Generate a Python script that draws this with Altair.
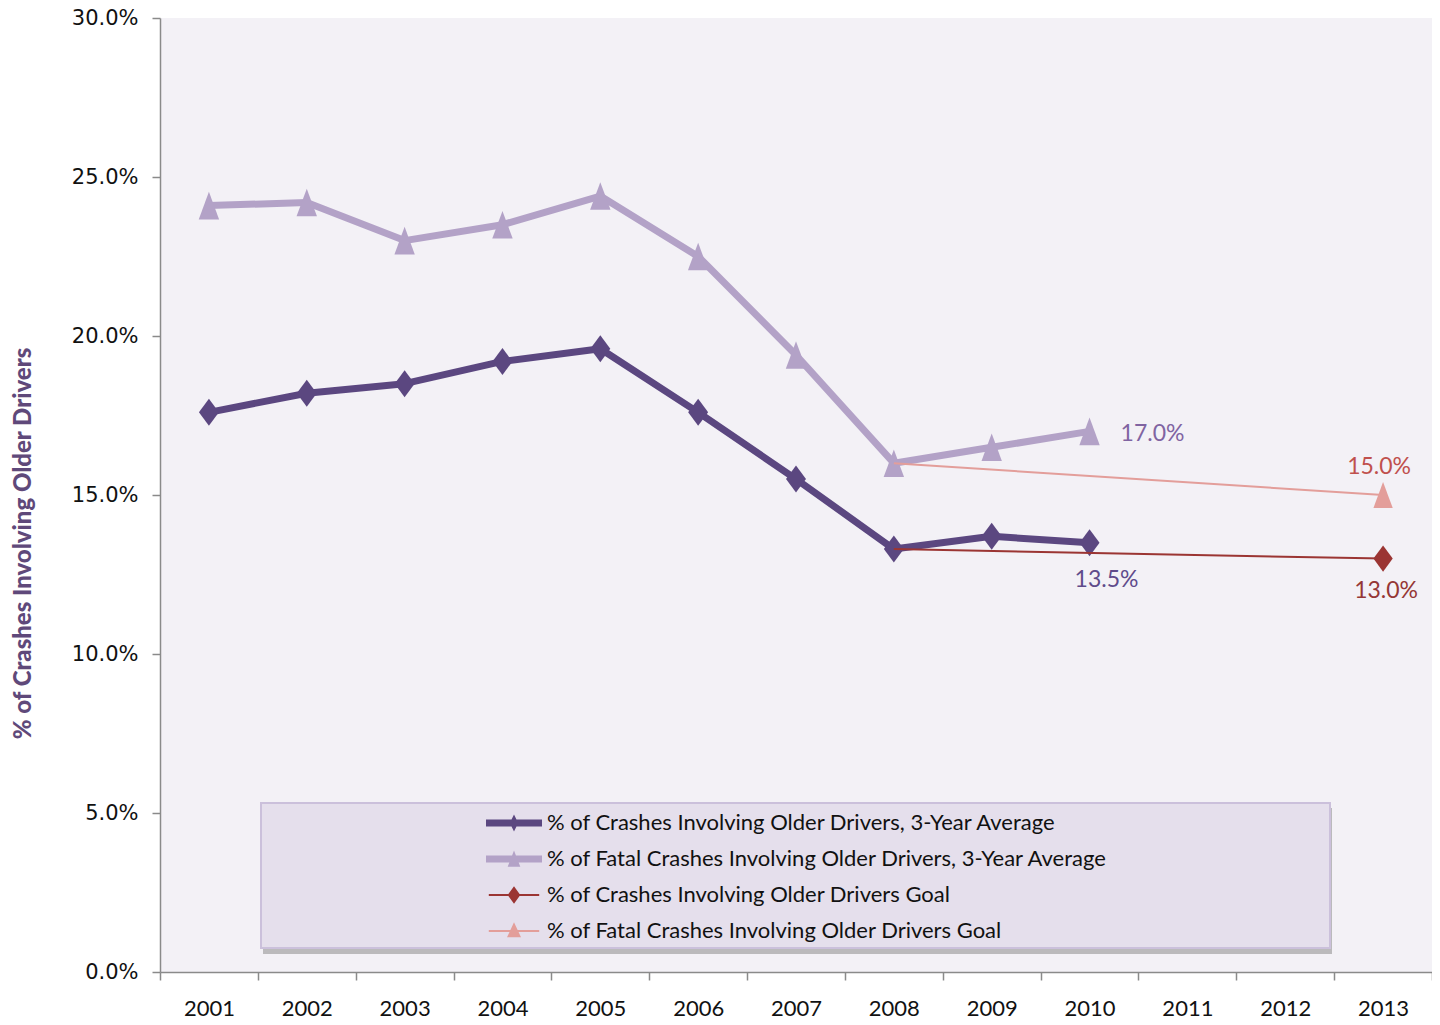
import altair as alt
import pandas as pd

# ---------------- data ----------------
years = ["2001", "2002", "2003", "2004", "2005", "2006", "2007",
         "2008", "2009", "2010", "2011", "2012", "2013"]
avg_years = ["2001", "2002", "2003", "2004", "2005", "2006", "2007",
             "2008", "2009", "2010"]
crash_avg = [17.6, 18.2, 18.5, 19.2, 19.6, 17.6, 15.5, 13.3, 13.7, 13.5]
fatal_avg = [24.1, 24.2, 23.0, 23.5, 24.4, 22.5, 19.4, 16.0, 16.5, 17.0]
goal_years = ["2008", "2013"]
crash_goal = [13.3, 13.0]
fatal_goal = [16.0, 15.0]
series_names = [
    "% of Crashes Involving Older Drivers, 3-Year Average",
    "% of Fatal Crashes Involving Older Drivers, 3-Year Average",
    "% of Crashes Involving Older Drivers Goal",
    "% of Fatal Crashes Involving Older Drivers Goal",
]
y_ticks = [0, 5, 10, 15, 20, 25, 30]
label_years = ["2010", "2010", "2013", "2013"]
label_values = [17.0, 13.5, 15.0, 13.0]
label_texts = ["17.0%", "13.5%", "15.0%", "13.0%"]

rows = []
for yr, v in zip(avg_years, crash_avg):
    rows.append({"year": yr, "value": v, "series": series_names[0]})
for yr, v in zip(avg_years, fatal_avg):
    rows.append({"year": yr, "value": v, "series": series_names[1]})
for yr, v in zip(goal_years, crash_goal):
    rows.append({"year": yr, "value": v, "series": series_names[2]})
for yr, v in zip(goal_years, fatal_goal):
    rows.append({"year": yr, "value": v, "series": series_names[3]})
df = pd.DataFrame(rows)
label_df = pd.DataFrame({"year": label_years, "value": label_values, "text": label_texts})

# ---------------- styles ----------------
colors = ["#5B4780", "#B3A2C7", "#9B3533", "#E39E9A"]
label_colors = ["#8064A2", "#5F4B8B", "#C0504D", "#953735"]
label_offsets = [(31, 3, "left"), (17, 37, "center"), (-4, -28, "center"), (3, 32, "center")]
color_scale = alt.Scale(domain=series_names, range=colors)

diamond = "M0,-1L0.74,0L0,1L-0.74,0Z"
triangle = "M0,-1L0.74,1L-0.74,1Z"
legend_paths = [
    "M-2,-0.25H2V0.25H-2Z M0,-0.6L0.3,0L0,0.6L-0.3,0Z",
    "M-2,-0.25H2V0.25H-2Z M0,-0.6L0.45,0.55H-0.45Z",
    "M-1.8,-0.07H1.8V0.07H-1.8Z M0,-0.62L0.45,0L0,0.62L-0.45,0Z",
    "M-1.8,-0.07H1.8V0.07H-1.8Z M0,-0.62L0.5,0.45H-0.5Z",
]

x_enc = alt.X(
    "year:O",
    scale=alt.Scale(type="band", domain=years, paddingInner=0, paddingOuter=0),
    bandPosition=0.5,
    axis=alt.Axis(title=None, labelAngle=0, tickBand="extent", tickSize=8,
                  labelPadding=18, labelFont="Lato", labelFontSize=22,
                  labelColor="#111111", domainColor="#8A8A8A", tickColor="#8A8A8A",
                  domainWidth=1.5, tickWidth=1.5, grid=False),
)
y_enc = alt.Y(
    "value:Q",
    scale=alt.Scale(domain=[0, 30], nice=False, zero=True),
    axis=alt.Axis(values=y_ticks, labelExpr="format(datum.value, '.1f') + '%'",
                  title="% of Crashes Involving Older Drivers",
                  titleFont="Lato", titleFontSize=24, titleFontWeight=900,
                  titleColor="#5F497A", titleAngle=270, titleX=-137, titleY=525,
                  titleAlign="center", titleBaseline="middle",
                  labelFont="DejaVu Sans", labelFontSize=21, labelColor="#111111",
                  labelPadding=14, tickSize=8, tickColor="#8A8A8A",
                  domainColor="#8A8A8A", domainWidth=1.5, tickWidth=1.5, grid=False),
)
color_enc = alt.Color("series:N", scale=color_scale, legend=None)

base = alt.Chart(df)

# legend box (decoration)
one = pd.DataFrame({"k": [0]})
box_shadow = alt.Chart(one).mark_rect(fill="#8C8C8C", opacity=0.55).encode(
    x=alt.value(103), x2=alt.value(1172), y=alt.value(790), y2=alt.value(936))
box = alt.Chart(one).mark_rect(fill="#E5DFEC", stroke="#CBC0DB", strokeWidth=2).encode(
    x=alt.value(101), x2=alt.value(1170), y=alt.value(785), y2=alt.value(930))

avg_lines = base.transform_filter(
    alt.FieldOneOfPredicate(field="series", oneOf=series_names[:2])
).mark_line(strokeWidth=7, strokeJoin="round").encode(x=x_enc, y=y_enc, color=color_enc)

avg_diamonds = base.transform_filter(
    alt.datum.series == series_names[0]
).mark_point(shape=diamond, filled=True, size=729, opacity=1).encode(x=x_enc, y=y_enc, color=color_enc)

avg_triangles = base.transform_filter(
    alt.datum.series == series_names[1]
).mark_point(shape=triangle, filled=True, size=760, opacity=1).encode(x=x_enc, y=y_enc, color=color_enc)

goal_lines = base.transform_filter(
    alt.FieldOneOfPredicate(field="series", oneOf=series_names[2:])
).mark_line(strokeWidth=2).encode(x=x_enc, y=y_enc, color=color_enc)

goal_diamond = base.transform_filter(
    (alt.datum.series == series_names[2]) & (alt.datum.year == "2013")
).mark_point(shape=diamond, filled=True, size=680, opacity=1).encode(x=x_enc, y=y_enc, color=color_enc)

goal_triangle = base.transform_filter(
    (alt.datum.series == series_names[3]) & (alt.datum.year == "2013")
).mark_point(shape=triangle, filled=True, size=680, opacity=1).encode(x=x_enc, y=y_enc, color=color_enc)

legend_kw = dict(title=None, orient="none", legendX=340, legendY=791,
                 labelFont="Lato", labelFontSize=22, labelColor="#111111",
                 labelLimit=900, labelOffset=19, rowPadding=11, symbolSize=784,
                 symbolStrokeWidth=0, symbolOpacity=1, padding=0)
legend_layer = base.transform_filter("false").mark_point(
    filled=True, size=784, opacity=1
).encode(
    x=x_enc, y=y_enc,
    color=alt.Color("series:N", scale=color_scale, legend=alt.Legend(**legend_kw)),
    shape=alt.Shape("series:N", scale=alt.Scale(domain=series_names, range=legend_paths),
                    legend=alt.Legend(**legend_kw)),
)

text_layers = []
for i in range(len(label_texts)):
    dx, dy, align = label_offsets[i]
    text_layers.append(
        alt.Chart(label_df.iloc[[i]]).mark_text(
            font="Lato", fontSize=23, color=label_colors[i], dx=dx, dy=dy,
            align=align, baseline="middle"
        ).encode(x=x_enc, y=y_enc, text="text:N")
    )

chart = alt.layer(
    box_shadow, box, avg_lines, avg_diamonds, avg_triangles,
    goal_lines, goal_diamond, goal_triangle, legend_layer, *text_layers
).resolve_scale(
    color="independent", shape="independent"
).properties(
    width=1272, height=954,
    autosize=alt.AutoSizeParams(type="none"),
    padding={"left": 152, "top": 10, "right": 0, "bottom": 48},
    background="white",
).configure_view(fill="#F3F1F6", stroke=None)

chart.save("out.html", embed_options={"renderer": "svg", "actions": False})
